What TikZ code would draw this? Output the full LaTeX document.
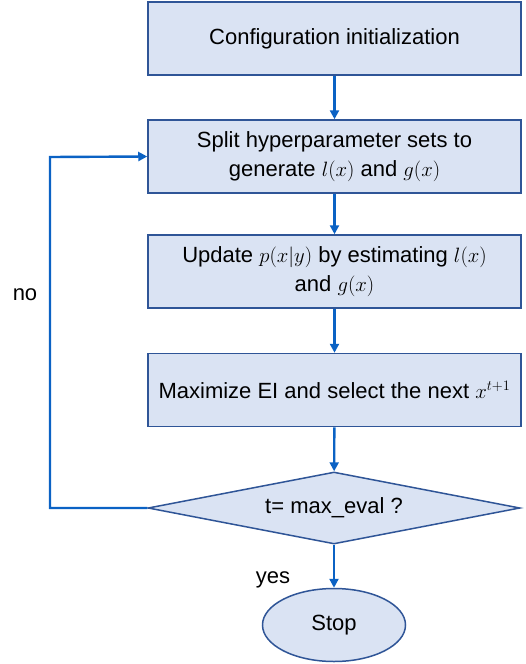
\documentclass[tikz,border=0pt]{standalone}
\usepackage{fontspec}
\setmainfont{Liberation Sans}
\usetikzlibrary{shapes.geometric,arrows.meta}
\definecolor{boxfill}{HTML}{DAE3F3}
\definecolor{boxline}{HTML}{2F5597}
\definecolor{arrcol}{HTML}{0B62C4}
\tikzset{
  stepbox/.style={draw=boxline, fill=boxfill, line width=1.5pt, minimum width=373pt, minimum height=73pt, inner sep=0pt, align=center, font=\fontsize{22}{29}\selectfont},
  decision/.style={shape=diamond, draw=boxline, fill=boxfill, line width=1.5pt, minimum width=372pt, minimum height=72pt, inner sep=0pt, aspect=5.2, font=\fontsize{22}{26}\selectfont},
  stopnode/.style={shape=ellipse, draw=boxline, fill=boxfill, line width=1.5pt, minimum width=143pt, minimum height=73pt, inner sep=0pt, font=\fontsize{22}{26}\selectfont},
  flow/.style={draw=arrcol, line width=2.4pt, -{Triangle[width=9pt,length=9pt]}},
  lbl/.style={font=\fontsize{22}{26}\selectfont, inner sep=0pt}
}
\begin{document}
\begin{tikzpicture}[x=1pt,y=-1pt]
\useasboundingbox (0,0) rectangle (526,664);
\node[stepbox] (init) at (334.5,38.5) {Configuration initialization};
\node[stepbox] (split) at (334.5,156.5) {Split hyperparameter sets to\\generate $l(x)$ and $g(x)$};
\node[stepbox] (update) at (334.5,271.5) {Update $p(x|y)$ by estimating $l(x)$\\and $g(x)$};
\node[stepbox] (maxi) at (334.5,390) {Maximize EI and select the next $x^{t+1}$};
\node[decision] (test) at (334,508) {t= max\_eval ?};
\node[stopnode] (stop) at (334,625) {Stop};
\coordinate (c1) at (50,508);
\coordinate (c2) at (50,157);
\draw[flow] (init) -- (split);
\draw[flow] (split) -- (update);
\draw[flow] (update) -- (maxi);
\draw[flow] (maxi) -- (test);
\draw[flow] (test) -- (stop);
\draw[flow] (test.west) -- (c1) -- (c2) -- (split.west);
\node[lbl] (no) at (25,295) {no};
\node[lbl] (yes) at (273,580) {yes};
\end{tikzpicture}
\end{document}
